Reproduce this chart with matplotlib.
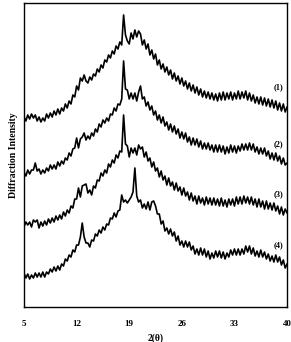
import numpy as np
import matplotlib
matplotlib.use("Agg")
import matplotlib.pyplot as plt

plt.rcParams["font.family"] = ["Liberation Serif", "DejaVu Serif"]

# 2-theta grid, 0.25 degree steps from 5 to 40
two_theta = np.arange(5, 40.001, 0.25)

# Diffraction intensity (arbitrary units, curves offset as in the figure)
pattern_1 = [
    190, 186, 192, 188, 193, 189, 192, 186,
    190, 185, 189, 186, 193, 189, 194, 190,
    196, 192, 198, 193, 199, 196, 203, 199,
    206, 203, 212, 210, 221, 217, 229, 226,
    232, 226, 224, 230, 227, 233, 231, 238,
    235, 242, 239, 247, 245, 252, 249, 256,
    253, 261, 258, 265, 262, 292, 272, 266,
    263, 274, 268, 277, 270, 276, 273, 262,
    267, 258, 263, 252, 257, 248, 253, 242,
    247, 238, 243, 235, 240, 232, 237, 228,
    234, 226, 231, 223, 229, 221, 226, 218,
    224, 216, 222, 214, 220, 212, 218, 210,
    216, 209, 215, 208, 214, 207, 213, 206,
    214, 207, 215, 207, 214, 208, 215, 207,
    214, 208, 216, 208, 215, 209, 216, 207,
    214, 206, 212, 204, 210, 203, 210, 202,
    209, 201, 208, 200, 207, 199, 206, 197,
    204, 196, 203, 195, 200,
]
pattern_2 = [
    135, 131, 137, 133, 137, 137, 144, 136,
    138, 133, 137, 134, 139, 136, 142, 138,
    142, 138, 145, 141, 146, 143, 149, 147,
    154, 151, 158, 159, 169, 159, 168, 170,
    174, 167, 171, 168, 174, 171, 178, 175,
    183, 180, 187, 184, 189, 186, 193, 192,
    199, 196, 203, 202, 208, 246, 218, 217,
    208, 214, 208, 214, 206, 215, 221, 208,
    210, 201, 205, 197, 201, 192, 196, 187,
    192, 184, 190, 181, 185, 177, 183, 175,
    181, 173, 178, 169, 175, 168, 174, 165,
    170, 162, 169, 162, 168, 160, 166, 158,
    164, 158, 164, 157, 162, 155, 162, 155,
    162, 155, 161, 153, 160, 154, 162, 155,
    161, 154, 161, 156, 163, 157, 163, 157,
    164, 157, 163, 155, 160, 153, 159, 153,
    159, 151, 156, 148, 154, 147, 154, 146,
    151, 143, 149, 142, 144,
]
pattern_3 = [
    80, 85, 82, 85, 80, 87, 85, 87,
    79, 85, 81, 86, 82, 88, 84, 89,
    85, 91, 87, 92, 88, 95, 91, 97,
    94, 101, 99, 108, 108, 119, 110, 121,
    122, 123, 114, 117, 112, 121, 119, 127,
    126, 134, 131, 137, 134, 143, 140, 147,
    144, 152, 149, 156, 155, 192, 163, 161,
    150, 159, 154, 159, 152, 162, 158, 160,
    150, 155, 146, 149, 140, 145, 136, 139,
    130, 136, 127, 131, 122, 129, 121, 125,
    117, 124, 116, 120, 112, 119, 111, 115,
    107, 114, 106, 111, 103, 111, 104, 109,
    102, 110, 103, 109, 102, 109, 102, 108,
    101, 109, 101, 107, 100, 108, 102, 108,
    101, 110, 103, 110, 103, 111, 104, 110,
    103, 110, 102, 108, 100, 108, 100, 106,
    98, 106, 98, 104, 97, 104, 96, 101,
    93, 100, 92, 98, 94,
]
pattern_4 = [
    34, 29, 33, 28, 32, 29, 34, 30,
    34, 30, 35, 30, 35, 33, 38, 35,
    40, 36, 41, 37, 43, 41, 48, 46,
    52, 50, 57, 55, 62, 62, 70, 84,
    70, 64, 64, 60, 67, 66, 73, 71,
    77, 74, 80, 77, 83, 82, 89, 88,
    94, 90, 96, 97, 112, 105, 107, 104,
    107, 110, 115, 139, 111, 105, 107, 99,
    103, 98, 105, 97, 105, 106, 101, 93,
    93, 83, 86, 76, 79, 73, 78, 71,
    75, 66, 71, 62, 66, 60, 66, 60,
    65, 57, 61, 53, 58, 52, 59, 52,
    58, 50, 56, 48, 54, 49, 56, 50,
    56, 49, 55, 48, 54, 50, 57, 52,
    58, 52, 58, 52, 58, 53, 61, 55,
    61, 53, 59, 51, 56, 50, 57, 50,
    55, 48, 53, 46, 51, 45, 52, 45,
    50, 42, 47, 39, 43,
]

labels = ["(1)", "(2)", "(3)", "(4)"]
label_y = [220, 163, 113, 62]
xticks = [5, 12, 19, 26, 33, 40]

fig = plt.figure(figsize=(2.91, 3.42), dpi=100)
ax = fig.add_axes([0.0825, 0.1023, 0.904, 0.889])

for series in [pattern_1, pattern_2, pattern_3, pattern_4]:
    ax.plot(two_theta, series, color="black", linewidth=1.2)

for lab, yy in zip(labels, label_y):
    ax.text(38.8, yy, lab, fontsize=6, fontweight="bold", ha="center", va="center")

ax.set_xlim(5, 40)
ax.set_ylim(0, 304)
ax.set_xticks(xticks)
ax.set_xticklabels([str(t) for t in xticks], fontsize=6.5, fontweight="bold")
ax.set_yticks([])
ax.tick_params(axis="x", length=0, pad=9)
for sp in ax.spines.values():
    sp.set_linewidth(1.0)

ax.set_xlabel("2(\u03b8)", fontsize=7, fontweight="bold", labelpad=4)
ax.set_ylabel("Diffraction Intensity", fontsize=7, fontweight="bold", labelpad=4)

fig.savefig("out.png", dpi=100)
